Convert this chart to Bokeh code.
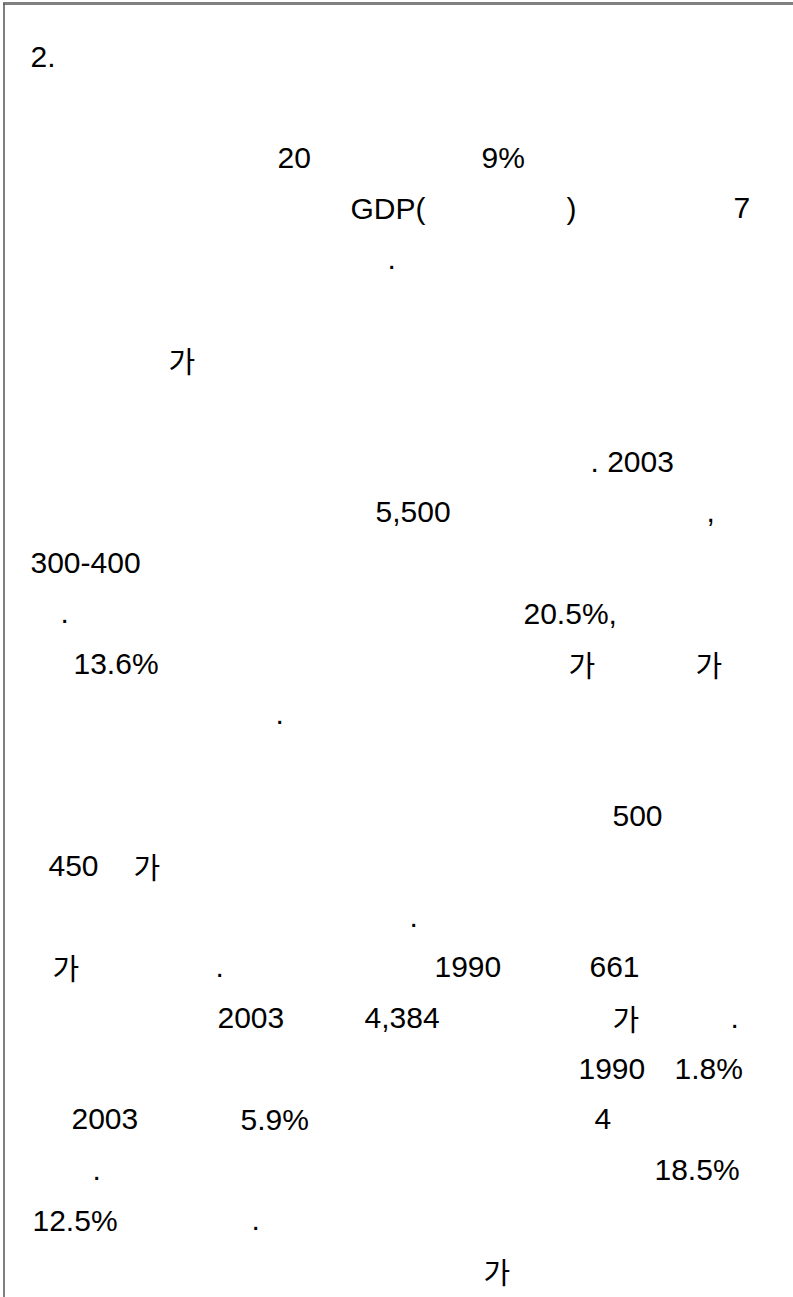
from bokeh.plotting import figure
from bokeh.models import Range1d
from bokeh.core.properties import value
from bokeh.embed import file_html
from bokeh.resources import INLINE

# Text fragments visible on the page (text, left edge in page px, line index)
fragment_text = [
    "2.",
    "20", "9%",
    "GDP(", ")", "7",
    ".",
    "가",
    ". 2003",
    "5,500", ",",
    "300-400",
    ".", "20.5%,",
    "13.6%", "가", "가",
    ".",
    "500",
    "450", "가",
    ".",
    "가", ".", "1990", "661",
    "2003", "4,384", "가", ".",
    "1990", "1.8%",
    "2003", "5.9%", "4",
    ".", "18.5%",
    "12.5%", ".",
    "가",
]
fragment_col = [
    30,
    277, 481,
    350, 566, 733,
    387,
    168,
    590,
    375, 706,
    30,
    60, 523,
    73, 568, 695,
    275,
    612,
    48, 133,
    409,
    52, 215, 434, 589,
    217, 364, 612, 730,
    578, 674,
    71, 240, 594,
    92, 654,
    32, 251,
    483,
]
fragment_line = [
    0,
    2, 2,
    3, 3, 3,
    4,
    6,
    8,
    9, 9,
    10,
    11, 11,
    12, 12, 12,
    13,
    15,
    16, 16,
    17,
    18, 18, 18, 18,
    19, 19, 19, 19,
    20, 20,
    21, 21, 21,
    22, 22,
    23, 23,
    24,
]

W, H = 793, 1297
FIRST_BASELINE = 56
LINE_PITCH = 50.6

p = figure(width=W, height=H, output_backend="svg", toolbar_location=None,
           x_range=Range1d(0, W), y_range=Range1d(H, 0),
           min_border=0, min_border_left=0, min_border_right=0,
           min_border_top=0, min_border_bottom=0)
p.axis.visible = False
p.grid.visible = False
p.outline_line_color = None
p.background_fill_color = "white"
p.border_fill_color = "white"

# page frame
p.segment(x0=[2.5], y0=[3], x1=[W], y1=[3], line_color="#808080", line_width=3)
p.segment(x0=[3.5], y0=[3], x1=[3.5], y1=[H], line_color="#555555", line_width=1.5)

def is_hangul(s):
    return any('\uac00' <= ch <= '\ud7a3' for ch in s)

lat = dict(x=[], y=[], t=[])
kor = dict(x=[], y=[], t=[])
for t, c, r in zip(fragment_text, fragment_col, fragment_line):
    d = kor if is_hangul(t) else lat
    d["x"].append(c)
    d["y"].append(FIRST_BASELINE + LINE_PITCH * r)
    d["t"].append(t)

p.text(x=lat["x"], y=lat["y"], text=lat["t"], text_font=value("Liberation Sans"),
       text_font_size="30px", text_color="black", text_align="left",
       text_baseline="alphabetic")
p.text(x=kor["x"], y=kor["y"], text=kor["t"], text_font=value("Noto Sans CJK KR"),
       text_font_size="29px", text_color="black", text_align="left",
       text_baseline="alphabetic")

open("out.html", "w").write(file_html(p, INLINE))
